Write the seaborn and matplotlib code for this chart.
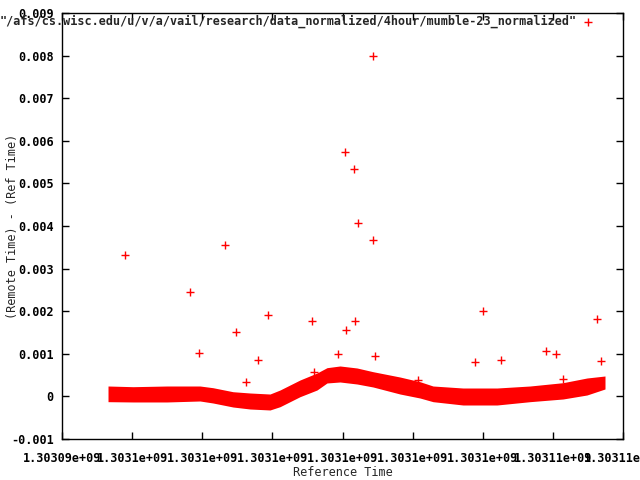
import numpy as np
import pandas as pd
import matplotlib
matplotlib.use('Agg')
import matplotlib.pyplot as plt
import seaborn as sns
from matplotlib.ticker import MultipleLocator, FuncFormatter

sns.set_style('ticks')
plt.rcParams['font.family'] = ['DejaVu Sans Mono']
plt.rcParams['font.weight'] = 'bold'

# Nome do arquivo (aparece na legenda)
arquivo = '"/afs/cs.wisc.edu/u/v/a/vail/research/data_normalized/4hour/mumble-23_normalized"'
inicio = 1303093800  # tempo de referencia inicial (s)

# Faixa densa de pontos: segundos depois do inicio, borda de cima e de baixo
band_seg = [1181, 1822, 2695, 3542, 3876, 4389, 4826, 5339, 5596, 6109, 6545, 6802,
            7136, 7572, 7983, 8676, 9189, 9523, 10293, 11166, 12013, 12860, 13476, 13938]
band_top = [0.000244, 0.000228, 0.000244, 0.000244, 0.000204, 0.000110, 0.000080, 0.000056,
            0.000150, 0.000385, 0.000549, 0.000674, 0.000714, 0.000667, 0.000580, 0.000455,
            0.000345, 0.000244, 0.000197, 0.000197, 0.000244, 0.000322, 0.000432, 0.000479]
band_bottom = [-0.000124, -0.000131, -0.000131, -0.000108, -0.000155, -0.000249, -0.000296, -0.000319,
               -0.000242, -0.000007, 0.000150, 0.000315, 0.000338, 0.000291, 0.000221, 0.000056,
               -0.000038, -0.000124, -0.000202, -0.000202, -0.000124, -0.000061, 0.000033, 0.000174]

# Pontos isolados
out_seg = [1617, 3286, 3524, 4184, 4474, 4723, 5039, 5295, 6417, 6468, 7084, 7264, 7297, 7495,
           7528, 7598, 7983, 7983, 8042, 9138, 10609, 10814, 11276, 12431, 12688, 12860, 13732, 13827]
out_val = [0.003319, 0.002451, 0.001012, 0.003554, 0.001505, 0.000331, 0.000847, 0.001904,
           0.001763, 0.000580, 0.000995, 0.005737, 0.001552, 0.005338, 0.001763, 0.004070,
           0.007991, 0.003671, 0.000941, 0.000385, 0.000800, 0.002005, 0.000847, 0.001059,
           0.000995, 0.000401, 0.001810, 0.000824]

fig = plt.figure(figsize=(6.4, 4.8), dpi=100)
ax = fig.add_axes([62/640, 41/480, 561/640, 426/480])

ax.fill_between(np.array(band_seg) + inicio, band_bottom, band_top, color='red', linewidth=0)

df = pd.DataFrame({'t': np.array(out_seg) + inicio, 'v': out_val})
sns.scatterplot(data=df, x='t', y='v', marker='+', color='red', s=30, linewidth=1,
                ax=ax, label=arquivo)

ax.set_xlim(inicio, inicio + 14400)
ax.set_ylim(-0.001, 0.009)
ax.xaxis.set_major_locator(MultipleLocator(1800))
ax.yaxis.set_major_locator(MultipleLocator(0.001))
ax.xaxis.set_major_formatter(FuncFormatter(lambda v, p: '%g' % v))
ax.yaxis.set_major_formatter(FuncFormatter(lambda v, p: '%g' % (round(v, 6) + 0.0)))

ax.tick_params(direction='in', top=True, right=True, length=5, width=1,
               labelsize=8.5, colors='black')
ax.tick_params(axis='x', pad=9)
ax.tick_params(axis='y', pad=6)
for s in ax.spines.values():
    s.set_linewidth(1)
    s.set_color('black')

ax.set_xlabel('Reference Time', fontsize=8.5, va='center')
ax.set_ylabel('(Remote Time) - (Ref Time)', fontsize=8.5, va='center')
ax.xaxis.set_label_coords(0.5, (439 - 472) / 426)
ax.yaxis.set_label_coords((13 - 62) / 561, 0.5)

ax.legend(loc='upper right', bbox_to_anchor=(594/640, 1 - 15/480), bbox_transform=fig.transFigure,
          markerfirst=False, frameon=False, handlelength=1, handletextpad=0.5,
          fontsize=8.5, borderaxespad=0, borderpad=0)

fig.savefig('out.png', dpi=100)
